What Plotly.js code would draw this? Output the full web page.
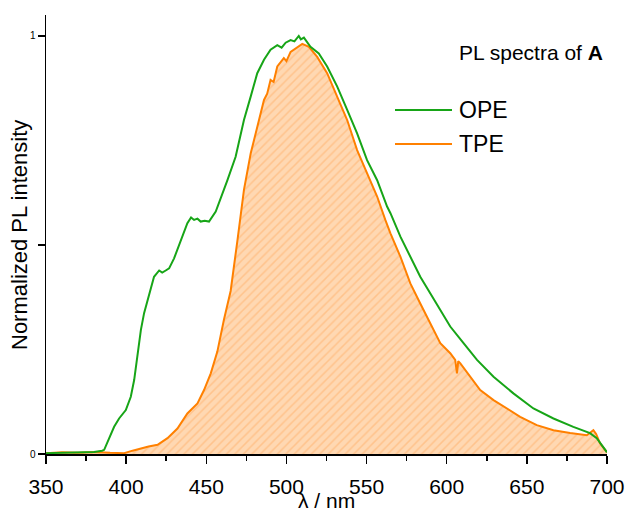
<!DOCTYPE html>
<html>
<head>
<meta charset="utf-8">
<script src="https://cdn.plot.ly/plotly-3.0.1.min.js"></script>
<style>html,body{margin:0;padding:0;background:#fff;}#chart{width:629px;height:513px;}</style>
</head>
<body>
<div id="chart"></div>
<script>
// Wavelengths (nm) and normalized PL intensities
const opeWavelength = [350, 360, 370, 380, 385, 386.3, 392.5, 395.6, 399.8, 402.9, 405.0, 407.1, 409.2, 411.2, 414.3, 417.4, 420.6, 422.5, 424.7, 426.8, 429.9, 434.1, 438.2, 440.5, 442.4, 444.5, 446.5, 449, 451.7, 455.9, 460.0, 463.2, 468.3, 473.5, 477.7, 481.8, 486.0, 490.1, 494.3, 497, 499.5, 502.6, 505, 507.7, 509, 510.9, 515.0, 520.2, 525.4, 531.7, 537.9, 544.1, 550.3, 556.6, 562.8, 564.9, 571.1, 577.3, 583.5, 589.8, 596.0, 602.2, 610.5, 618.9, 629.2, 641.6, 654.1, 666.6, 679.0, 689.4, 693.6, 697, 700];
const opeIntensity = [0.002, 0.003, 0.004, 0.005, 0.008, 0.010, 0.065, 0.085, 0.105, 0.137, 0.177, 0.241, 0.297, 0.337, 0.384, 0.424, 0.439, 0.434, 0.439, 0.444, 0.468, 0.512, 0.552, 0.566, 0.560, 0.563, 0.556, 0.558, 0.556, 0.580, 0.620, 0.655, 0.711, 0.799, 0.855, 0.911, 0.943, 0.967, 0.978, 0.972, 0.984, 0.990, 0.987, 1.000, 0.992, 0.996, 0.974, 0.958, 0.927, 0.879, 0.823, 0.767, 0.703, 0.655, 0.592, 0.576, 0.520, 0.472, 0.424, 0.384, 0.344, 0.305, 0.265, 0.225, 0.185, 0.145, 0.109, 0.085, 0.065, 0.050, 0.038, 0.020, 0.004];

const tpeWavelength = [350, 360, 370, 380, 390, 398.8, 404, 409.2, 414, 419.6, 425.8, 432.0, 438.2, 444.5, 448.6, 452.8, 456.9, 461.0, 465.2, 469.4, 473.5, 477.7, 481.8, 486.0, 488, 490.1, 492, 494.3, 498.4, 500, 502.6, 506.8, 509.9, 514.0, 519.2, 525.4, 531.7, 537.9, 544.1, 550.3, 556.6, 561.7, 564.9, 571.1, 577.3, 583.5, 589.8, 596.0, 602.2, 605.3, 606.4, 607.2, 608.5, 614.7, 620.9, 629.2, 637.5, 645.8, 656.2, 666.6, 677.0, 687.4, 691.5, 693.2, 695.6, 700];
const tpeIntensity = [0.002, 0.004, 0.003, 0.005, 0.003, 0.002, 0.008, 0.014, 0.018, 0.022, 0.038, 0.061, 0.097, 0.121, 0.153, 0.193, 0.245, 0.321, 0.390, 0.510, 0.632, 0.719, 0.783, 0.847, 0.862, 0.895, 0.890, 0.927, 0.947, 0.940, 0.962, 0.974, 0.981, 0.974, 0.950, 0.911, 0.855, 0.799, 0.727, 0.672, 0.616, 0.560, 0.528, 0.472, 0.408, 0.360, 0.313, 0.265, 0.241, 0.225, 0.193, 0.222, 0.217, 0.185, 0.153, 0.129, 0.109, 0.089, 0.069, 0.057, 0.050, 0.045, 0.057, 0.048, 0.026, 0.004];

const xTickValues = [350, 400, 450, 500, 550, 600, 650, 700];
const yTickValues = [0, 0.5, 1];
const yTickLabels = ['0', '', '1'];
const seriesNames = ['OPE', 'TPE'];
const annotationTitle = 'PL spectra of <b>A</b>';
const xTitle = 'λ / nm';
const yTitle = 'Normalized PL intensity';

const GREEN = '#17a517';
const ORANGE = '#ff8000';
const FONT = 'Liberation Sans, Arial, sans-serif';

const traces = [
  {
    x: tpeWavelength, y: tpeIntensity, type: 'scatter', mode: 'lines', name: seriesNames[1],
    line: {color: ORANGE, width: 2},
    fill: 'tozeroy',
    fillcolor: '#ffd6ad',
    fillpattern: {shape: '/', bgcolor: '#ffd8b2', fgcolor: '#ffc38c', size: 6, solidity: 0.25},
    showlegend: false, hoverinfo: 'skip'
  },
  {
    x: opeWavelength, y: opeIntensity, type: 'scatter', mode: 'lines', name: seriesNames[0],
    line: {color: GREEN, width: 2},
    showlegend: false, hoverinfo: 'skip'
  }
];

const L = 46, R = 22, T = 15, B = 59;
const W = 629 - L - R, H = 513 - T - B;
const px = v => (v - L) / W;
const py = v => (513 - B - v) / H;

const layout = {
  width: 629, height: 513,
  margin: {l: L, r: R, t: T, b: B, pad: 0},
  paper_bgcolor: '#ffffff', plot_bgcolor: '#ffffff',
  font: {family: FONT, color: '#000'},
  showlegend: false,
  xaxis: {
    range: [350, 700], tickvals: xTickValues, ticks: 'outside', ticklen: 8, tickwidth: 1.5, tickcolor: '#000',
    showline: true, linecolor: '#000', linewidth: 1.5, showgrid: false, zeroline: false,
    minor: {dtick: 25, tick0: 350, ticks: 'outside', ticklen: 5, tickwidth: 1.5, tickcolor: '#000', showgrid: false},
    tickfont: {family: FONT, size: 21, color: '#000'}, ticklabelstandoff: 5, fixedrange: true
  },
  yaxis: {
    range: [0, 1.0502], tickvals: yTickValues, ticktext: yTickLabels, ticks: 'outside', ticklen: 7, tickwidth: 1.5, tickcolor: '#000',
    showline: true, linecolor: '#000', linewidth: 1.5, showgrid: false, zeroline: false,
    tickfont: {family: FONT, size: 10, color: '#000'}, fixedrange: true
  },
  shapes: [
    {type: 'line', xref: 'paper', yref: 'paper', x0: px(395), x1: px(452), y0: py(110), y1: py(110), line: {color: GREEN, width: 2}},
    {type: 'line', xref: 'paper', yref: 'paper', x0: px(395), x1: px(452), y0: py(144), y1: py(144), line: {color: ORANGE, width: 2}}
  ],
  annotations: [
    {xref: 'paper', yref: 'paper', x: px(457), y: py(52), xanchor: 'left', yanchor: 'middle', text: annotationTitle, showarrow: false, font: {family: FONT, size: 21, color: '#000'}},
    {xref: 'paper', yref: 'paper', x: px(457), y: py(110), xanchor: 'left', yanchor: 'middle', text: seriesNames[0], showarrow: false, font: {family: FONT, size: 23, color: '#000'}},
    {xref: 'paper', yref: 'paper', x: px(457), y: py(144), xanchor: 'left', yanchor: 'middle', text: seriesNames[1], showarrow: false, font: {family: FONT, size: 23, color: '#000'}},
    {xref: 'paper', yref: 'paper', x: px(20), y: py(235), xanchor: 'center', yanchor: 'middle', textangle: -90, text: yTitle, showarrow: false, font: {family: FONT, size: 22, color: '#000'}},
    {xref: 'paper', yref: 'paper', x: px(326), y: py(500), xanchor: 'center', yanchor: 'middle', text: xTitle, showarrow: false, font: {family: FONT, size: 21, color: '#000'}}
  ]
};

Plotly.newPlot('chart', traces, layout, {displayModeBar: false, staticPlot: true});
</script>
</body>
</html>
